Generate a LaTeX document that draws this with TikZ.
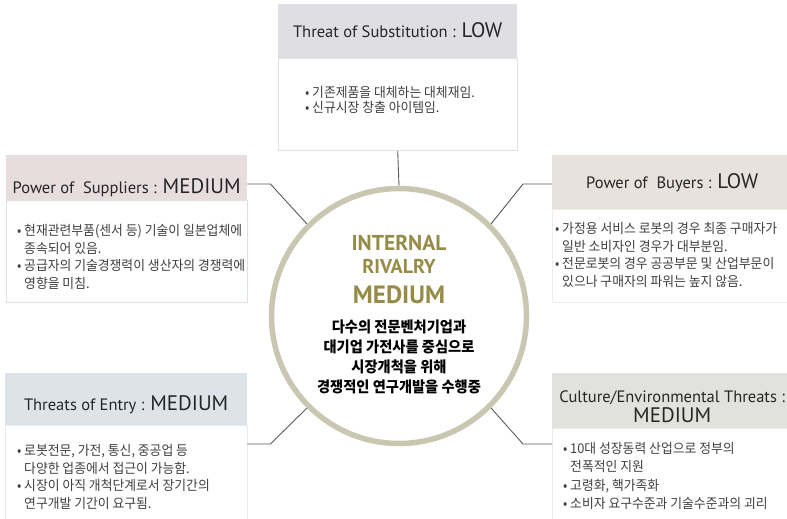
\documentclass[tikz,border=0pt]{standalone}
\usepackage{fontspec}
\setmainfont{PT Sans}
\newfontfamily\kr[FakeStretch=0.95]{Noto Sans CJK KR}
\usetikzlibrary{positioning}

\definecolor{ringgray}{HTML}{C9C7B1}
\definecolor{olive}{HTML}{968B47}
\definecolor{linkgray}{HTML}{5A5A5A}
\definecolor{hdrtop}{HTML}{DFDEE3}
\definecolor{hdrsup}{HTML}{E7DDDF}
\definecolor{hdrbuy}{HTML}{E8E2DC}
\definecolor{hdrent}{HTML}{DCE3E9}
\definecolor{hdrenv}{HTML}{E1E2DE}

\tikzset{
  hdr/.style={rectangle, inner sep=0pt, anchor=north west},
  hdrtxt/.style={inner sep=0pt, anchor=base, text=black!85,
    font=\fontsize{16.5}{18}\selectfont},
  bodybox/.style={rectangle, draw, line width=0.8pt, fill=white,
    inner sep=0pt, anchor=north},
  bullets/.style={align=left, inner sep=0pt, text=black!75,
    font=\kr\fontsize{13.5}{17.5}\selectfont},
  link/.style={draw=linkgray, line width=0.9pt},
  core/.style={circle, draw=ringgray, line width=5.5pt, fill=white,
    minimum size=255pt, inner sep=0pt},
  ttl/.style={inner sep=0pt, anchor=base, text=olive},
}
\newcommand\lvl[1]{{\fontsize{21}{22}\selectfont #1}}
\newcommand\itm{\textbullet\ }
\newcommand\ind{\phantom{\itm}}

\begin{document}
\begin{tikzpicture}[x=1pt,y=-1pt]
  \useasboundingbox (0,0) rectangle (787,519);

  % five force boxes: shaded header + white body
  \node[hdr, fill=hdrtop, minimum width=239pt, minimum height=54pt] (subH) at (278,4) {};
  \node[bodybox, draw=black!12, minimum width=239pt, minimum height=92pt] (subB) at (subH.south) {};

  \node[hdr, fill=hdrsup, minimum width=241pt, minimum height=45pt] (supH) at (6,155) {};
  \node[bodybox, draw=hdrsup, minimum width=241pt, minimum height=102pt] (supB) at (supH.south) {};

  \node[hdr, fill=hdrbuy, minimum width=240pt, minimum height=54pt] (buyH) at (552,155) {};
  \node[bodybox, draw=hdrbuy!70, minimum width=240pt, minimum height=93pt] (buyB) at (buyH.south) {};

  \node[hdr, fill=hdrent, minimum width=242pt, minimum height=52pt] (entH) at (5,373) {};
  \node[bodybox, draw=hdrent!70, minimum width=242pt, minimum height=110pt] (entB) at (entH.south) {};

  \node[hdr, fill=hdrenv, minimum width=240pt, minimum height=55pt] (envH) at (552,373) {};
  \node[bodybox, draw=hdrenv!70, minimum width=240pt, minimum height=110pt] (envB) at (envH.south) {};

  % header titles
  \node[hdrtxt] (subT) at ([yshift=-34pt]subH.north) {Threat of Substitution : \lvl{LOW}};
  \node[hdrtxt] (supT) at ([yshift=-38pt]supH.north) {Power of \ Suppliers : \lvl{MEDIUM}};
  \node[hdrtxt] (buyT) at ([yshift=-33pt]buyH.north) {Power of \ Buyers : \lvl{LOW}};
  \node[hdrtxt] (entT) at ([yshift=-37pt]entH.north) {Threats of Entry : \lvl{MEDIUM}};
  \node[hdrtxt] (envT) at ([yshift=-29pt]envH.north) {Culture/Environmental Threats :};
  \node[hdrtxt] (envV) at ([yshift=-49pt]envH.north) {\lvl{MEDIUM}};

  % bullet texts
  \node[bullets, below right=28pt and 27pt of subB.north west] (subL)
    {\itm 기존제품을 대체하는 대체재임.\\[-2.5pt]\itm 신규시장 창출 아이템임.};
  \node[bullets, below right=24pt and 11pt of supB.north west] (supL)
    {\itm 현재관련부품(센서 등) 기술이 일본업체에\\\ind 종속되어 있음.\\
     \itm 공급자의 기술경쟁력이 생산자의 경쟁력에\\\ind 영향을 미침.};
  \node[bullets, below right=13pt and 3pt of buyB.north west] (buyL)
    {\itm 가정용 서비스 로봇의 경우 최종 구매자가\\\ind 일반 소비자인 경우가 대부분임.\\
     \itm 전문로봇의 경우 공공부문 및 산업부문이\\\ind 있으나 구매자의 파워는 높지 않음.};
  \node[bullets, below right=19pt and 12pt of entB.north west] (entL)
    {\itm 로봇전문, 가전, 통신, 중공업 등\\\ind 다양한 업종에서 접근이 가능함.\\
     \itm 시장이 아직 개척단계로서 장기간의\\\ind 연구개발 기간이 요구됨.};
  \node[bullets, below right=14pt and 11pt of envB.north west] (envL)
    {\itm 10대 성장동력 산업으로 정부의\\[0.7pt]\ind 전폭적인 지원\\[0.7pt]
     \itm 고령화, 핵가족화\\[0.7pt]\itm 소비자 요구수준과 기술수준과의 괴리};

  % internal rivalry in the middle
  \node[core] (core) at (399,316) {};
  \node[ttl, font=\bfseries\fontsize{21.5}{22}\selectfont] (t1) at (399,250) {INTERNAL};
  \node[ttl, font=\bfseries\fontsize{20}{20}\selectfont] (t2) at (399,273) {RIVALRY};
  \node[ttl, font=\bfseries\fontsize{25}{25}\selectfont] (t3) at (399,303) {MEDIUM};
  \node[inner sep=0pt, anchor=north, align=center,
    font=\kr\bfseries\fontsize{15}{20}\selectfont] (coreL) at (399,320)
    {다수의 전문벤처기업과\\대기업 가전사를 중심으로\\시장개척을 위해\\경쟁적인 연구개발을 수행중};

  % connectors
  \draw[link] (subB.south) -- (core.north);
  \draw[link] ([yshift=-29pt]supH.north east) -- ++(23,0) -- (core.135);
  \draw[link] ([yshift=-29pt]buyH.north west) -- ++(-29,0) -- (core.45);
  \draw[link] ([yshift=-71pt]entH.north east) -- ++(23,0) -- (core.225);
  \draw[link] ([yshift=-71pt]envH.north west) -- ++(-29,0) -- (core.315);
\end{tikzpicture}
\end{document}
